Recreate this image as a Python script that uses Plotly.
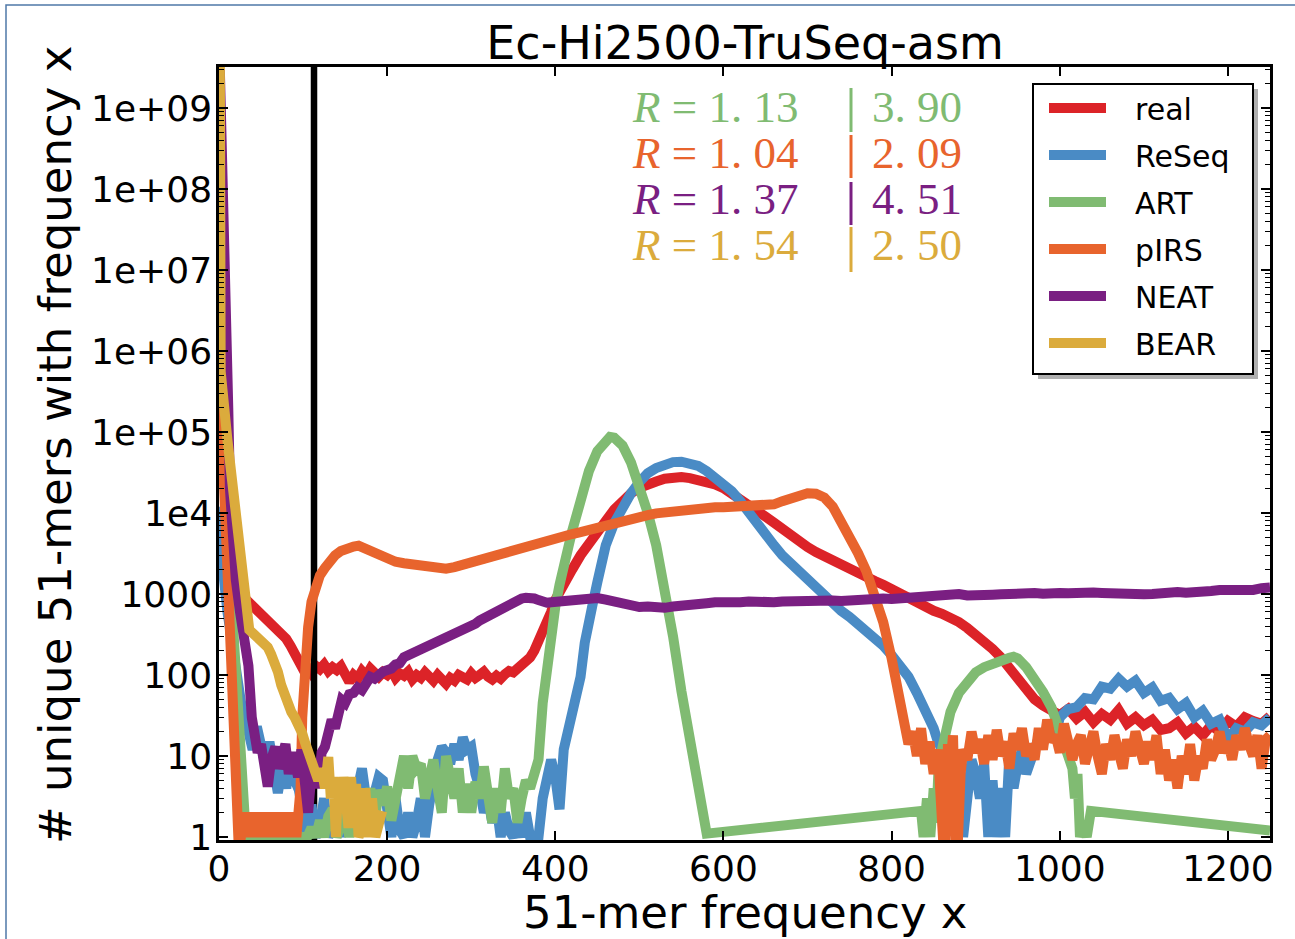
import plotly.graph_objects as go

# ---------------------------------------------------------------------------
# k-mer spectra: number of distinct 51-mers observed with frequency x
# ---------------------------------------------------------------------------
real_x = [1, 5, 10, 15, 20, 25] + list(range(30, 400, 5)) + list(range(400, 1251, 10))
real_y = [
    8e5, 6e4, 8000, 2500, 1400, 1000,
    900, 800, 720, 690, 620, 520, 470, 430, 380, 320,
    280, 230, 180, 140, 118, 125, 105, 130, 118, 135,
    112, 125, 115, 128, 95, 82, 100, 90, 112, 98,
    120, 105, 95, 108, 100, 115, 92, 105, 98, 110,
    88, 100, 92, 108, 95, 85, 100, 88, 78, 92,
    85, 100, 95, 88, 105, 92, 100, 110, 95, 88,
    98, 90, 102, 112, 108, 120, 130, 150, 165, 200,
    260, 340, 420, 600,
    850, 1400, 2000, 3000, 4300, 5600, 8000, 11000, 14500, 17500,
    20500, 23000, 24500, 26500, 27500, 27800, 27000, 26000, 24500, 22500,
    20300, 17500, 15000, 12500, 10800, 9000, 7600, 6300, 5300, 4500,
    3800, 3300, 2900, 2600, 2300, 2100, 1850, 1600, 1450, 1300,
    1150, 1050, 880, 760, 690, 620, 570, 520, 450, 380,
    320, 270, 210, 165, 120, 90, 68, 50, 42, 36,
    32, 38, 29, 35, 26, 33, 28, 37, 25, 30,
    24, 28, 21, 22, 26, 19, 23, 18, 24, 20,
    27, 23, 30, 27, 25, 31,
]

reseq_x = ([1, 3, 6, 10, 15, 19, 25] + list(range(30, 450, 5)) + list(range(450, 851, 10))
           + list(range(855, 1000, 5)) + list(range(1000, 1251, 10)))
reseq_y = [
    12000, 4000, 1500, 600, 250, 150, 60,
    25, 20, 12, 23, 14, 8, 15, 6, 3.5, 7,
    4, 10, 5, 3.8, 1.6, 1, 2.5, 1, 1.4, 3,
    1, 1.5, 2, 1, 3, 1.3, 2.2, 4, 7, 3,
    1.5, 3.5, 5.5, 5, 2.5, 1, 3, 1.2, 1, 2,
    1, 1.5, 3, 1, 2.5, 6, 9, 13, 11, 8,
    14, 9, 17, 12, 13, 6, 4, 2, 3, 1.5,
    2.5, 1, 2, 1.2, 1, 1.5, 1, 2, 1, 1,
    1, 3, 6, 9, 5.5, 2.2, 12, 19, 35, 60,
    95, 250, 520, 800,
    1400, 4000, 7500, 12000, 17500, 24000, 31000, 36000, 40000, 42500,
    43000, 41000, 38000, 33000, 28000, 23500, 18500, 14000, 10000, 7500,
    5500, 4000, 3000, 2400, 1900, 1500, 1150, 950, 780, 620,
    520, 430, 350, 290, 230, 175, 130, 95, 60, 38,
    22,
    15, 12, 6, 8, 3, 5, 1, 4, 9, 6,
    3, 8, 1, 5, 1, 4, 1, 10, 4, 8,
    12, 6, 9, 11, 17, 14, 20, 22, 18,
    30, 38, 40, 52, 50, 72, 68, 90, 72, 85,
    60, 70, 48, 52, 38, 45, 30, 36, 25, 28,
    16, 22, 20, 26, 24, 30,
]

art_x = ([1, 5, 10, 15, 20, 25, 28, 32] + list(range(35, 385, 5))
         + [385, 390, 395, 400, 405, 410, 415, 420, 430, 440, 450, 460, 465, 470,
            480, 490, 500, 510, 520, 530, 540, 550, 555, 560, 565, 570, 575, 580]
         + [835, 838, 842, 846, 850, 853, 856, 860, 865, 870, 880, 890, 900, 910,
            920, 930, 940, 945, 950, 960, 970, 980, 990, 1000, 1005, 1010, 1015,
            1018, 1021, 1024, 1028, 1032, 1037, 1250])
art_y = [
    3e5, 3e4, 5000, 800, 100, 15, 4, 1,
    1, 1, 1, 1, 1, 1, 1, 1, 1, 1,
    1, 1, 1, 1, 1, 1.3, 1, 1.6, 1, 1.8,
    2.2, 1, 1.5, 2, 1, 2.5, 1.5, 3, 2, 4,
    1.5, 3.8, 2.5, 4.2, 1.6, 3, 6, 10, 4, 10,
    7, 8, 3, 5, 9, 4, 2, 10, 6, 3,
    7, 2, 4.5, 2, 4.8, 3, 7.4, 2.5, 1.5, 4,
    2, 7, 3, 4, 1.5, 3, 5, 4, 7, 9,
    45, 130, 350, 700, 1300, 2200, 4000, 6000, 14000, 33000, 58000, 80000, 87000, 85000,
    68000, 42000, 21000, 10000, 4000, 1300, 300, 63, 32, 15, 8, 4, 2, 1.1,
    2.1, 1, 3, 1, 4, 1.5, 8, 12, 22, 35, 60, 85, 108, 125,
    140, 150, 163, 168, 160, 125, 92, 62, 40, 22, 16, 10, 7,
    3, 6, 1, 1.5, 1, 2.1, 1.2,
]

pirs_x = ([1, 5, 10, 15, 20, 23] + list(range(26, 96, 3))
          + [97, 99, 102, 106, 110, 114, 120, 126, 132, 138, 145, 152, 160, 166, 172, 180, 187, 194]
          + list(range(200, 811, 10))
          + [815, 820, 825, 830, 835, 840, 845, 850, 855, 858, 861, 864, 867, 870, 873, 876, 879, 882]
          + list(range(885, 1251, 5)))
pirs_y = [
    4e5, 3e4, 1500, 60, 3, 1,
    1, 2, 1, 2, 1, 2, 1, 2, 1, 2, 1, 2,
    1, 2, 1, 2, 1, 2, 1, 2, 1, 2, 1, 2,
    4, 30, 120, 390, 800, 1100, 1700, 2100, 2600, 3000,
    3400, 3700, 3850, 3950, 3700, 3500, 3300, 2900,
    2700, 2500, 2400, 2300, 2250, 2200, 2150, 2050, 2150, 2300,
    2500, 2750, 3000, 3150, 3300, 3600, 3750, 4000, 4300, 4700,
    5000, 5200, 5500, 5800, 6200, 6700, 7000, 7500, 8000, 8500,
    9000, 9400, 9900, 10200, 10600, 10900, 11200, 11400, 11600, 11800,
    11800, 11900, 11800, 11700, 11800, 12000, 12800, 14000, 15300, 16600,
    17500, 17300, 15500, 12000, 8000, 5500, 3200, 1900, 1000, 450,
    160, 50,
    25, 14, 20, 10, 22, 8, 15, 6, 12, 3,
    1, 1, 14, 8, 18, 1, 1, 6,
    12, 9, 20, 11, 16, 8, 18, 9, 21, 10,
    15, 7, 19, 12, 22, 10, 14, 9, 22, 12,
    28, 15, 18, 11, 25, 15, 9, 14, 18, 8,
    12, 20, 10, 6, 14, 9, 18, 11, 7, 16,
    10, 20, 12, 8, 15, 9, 18, 6, 12, 5,
    9, 4, 10, 6, 14, 5, 10, 7, 16, 9,
    12, 20, 11, 15, 9, 18, 12, 22, 14, 10,
    18, 7, 16, 18,
]

neat_x = ([1, 4, 8, 11, 13, 16, 20, 25, 30, 35, 39, 42]
          + [46, 50, 54, 58, 62, 67, 71, 75, 79, 83, 87, 91, 94, 98, 102, 106, 110,
             114, 118, 122, 126, 130, 134, 138, 142, 146]
          + list(range(150, 400, 5)) + list(range(400, 1251, 10)))
neat_y = [
    3e9, 5e7, 3e6, 2e5, 2e4, 4000, 1500, 600, 280, 130, 30, 18,
    11, 14, 6, 4.2, 9, 13, 7, 9, 14, 6,
    11, 8, 5.5, 12, 3.5, 2, 6, 9, 4, 11,
    13, 20, 28, 22, 40, 49,
    45, 58, 60, 70, 65, 85, 95, 90, 105, 110,
    115, 120, 135, 140, 166, 175, 190, 205, 220, 230,
    240, 255, 265, 270, 290, 310, 325, 340, 360, 380,
    400, 430, 470, 500, 540, 580, 620, 680, 720, 760,
    820, 850, 880, 900, 920, 880, 840, 800, 780, 790,
    800, 820, 800, 840, 860, 890, 850, 800, 760, 700,
    690, 700, 680, 675, 700, 730, 760, 780, 770, 790,
    780, 800, 790, 810, 790, 800, 790, 810, 820, 840,
    830, 850, 840, 830, 820, 840, 860, 850, 860, 880,
    870, 890, 920, 910, 930, 920, 950, 970, 1000, 960,
    990, 1000, 980, 990, 1010, 1000, 1020, 1030, 1010, 1040,
    1030, 1020, 1050, 1030, 1040, 1030, 1010, 990, 1000, 1020,
    990, 1000, 1030, 1050, 1060, 1040, 1080, 1100, 1090, 1120,
    1110, 1130, 1150, 1120, 1180, 1200,
]

bear_x = [1, 2, 10, 20, 30, 33, 36, 40, 45, 50,
          55, 58, 62, 66, 70, 74, 78, 82, 86, 90,
          94, 99, 103, 106, 110, 114, 118, 122, 126, 130,
          133, 136, 139, 142, 145, 148, 151, 154, 157, 160,
          163, 166, 170, 174, 178, 182, 186, 190, 194]
bear_y = [5e9, 5.6e5, 8e4, 9000, 1000, 480, 360, 330, 300, 280,
          250, 220, 180, 150, 110, 75, 55, 40, 35, 30,
          25, 19, 14, 11, 8, 7.3, 5, 7, 4, 9.7,
          3, 5.5, 1, 5, 2, 5.5, 3, 1.3, 5.5, 2,
          4.5, 1, 1.3, 4, 1, 3, 1, 1.5, 2.1]

# frequency cut-off marked by the vertical bar
cutoff_x = 113

# R statistics per simulator: left / right values
r_names = ["ART", "pIRS", "NEAT", "BEAR"]
r_left = ["1.13", "1.04", "1.37", "1.54"]
r_right = ["3.90", "2.09", "4.51", "2.50"]

y_tick_vals = [1, 10, 100, 1000, 1e4, 1e5, 1e6, 1e7, 1e8, 1e9]
y_tick_text = ["1", "10", "100", "1000", "1e4", "1e+05", "1e+06", "1e+07", "1e+08", "1e+09"]
x_tick_vals = [0, 200, 400, 600, 800, 1000, 1200]

colors = {
    "real": "#dc2328",
    "ReSeq": "#4a8bc5",
    "ART": "#80bb72",
    "pIRS": "#e8642d",
    "NEAT": "#7a1f82",
    "BEAR": "#dbab3c",
}

series = [
    ("real", real_x, real_y),
    ("ReSeq", reseq_x, reseq_y),
    ("ART", art_x, art_y),
    ("pIRS", pirs_x, pirs_y),
    ("NEAT", neat_x, neat_y),
    ("BEAR", bear_x, bear_y),
]

# ---------------------------------------------------------------------------
W, H = 1295, 939
ML, MR, MT, MB = 219, 25, 67, 99
PW, PH = W - ML - MR, H - MT - MB


def px_x(px):
    return (px - ML) / PW


def px_y(py):
    return (H - MB - py) / PH


FONT = "DejaVu Sans"
SERIF = "Liberation Serif"
GAP = "\u00a0\u00a0\u2006"   # space between legend swatch and label

fig = go.Figure()
for name, xs, ys in series:
    assert len(xs) == len(ys), name
    fig.add_trace(go.Scatter(
        x=xs, y=ys, mode="lines", name=GAP + name, legendgroup=name,
        line=dict(color=colors[name], width=10),
    ))
    if name == "real":
        fig.add_trace(go.Scatter(
            x=[cutoff_x, cutoff_x], y=[0.1, 1e11], mode="lines",
            line=dict(color="black", width=6.5), showlegend=False, hoverinfo="skip",
        ))

minor_vals = [k * 10 ** d for d in range(0, 10) for k in range(2, 10)]

axis_common = dict(
    showline=True, linecolor="black", linewidth=2.5, mirror="allticks",
    ticks="inside", ticklen=9, tickwidth=1.5, tickcolor="black",
    showgrid=False, zeroline=False,
    tickfont=dict(family=FONT, size=36, color="black"),
)

fig.update_xaxes(range=[0, 1250], tickvals=x_tick_vals, ticklabelstandoff=-5, **axis_common)
fig.update_yaxes(
    type="log", range=[-0.037, 9.506],
    tickvals=y_tick_vals, ticktext=y_tick_text, ticklabelstandoff=-3,
    minor=dict(tickvals=minor_vals, ticks="inside", ticklen=5, tickwidth=1, tickcolor="black"),
    **axis_common,
)

annotations = [
    dict(text="51-mer frequency x", x=0.5, y=px_y(913), xref="paper", yref="paper",
         showarrow=False, xanchor="center", yanchor="middle",
         font=dict(family=FONT, size=45, color="black")),
    dict(text="# unique 51-mers with frequency x", x=px_x(55), y=px_y(445),
         xref="paper", yref="paper", showarrow=False, textangle=-90,
         xanchor="center", yanchor="middle",
         font=dict(family=FONT, size=45, color="black")),
]

shapes = []
row_centers = [107, 153, 199, 245]
bar_spans = [(88, 132), (135, 178), (182, 225), (227, 272)]
for name, left, right, yc, (b0, b1) in zip(r_names, r_left, r_right, row_centers, bar_spans):
    c = colors[name]
    annotations.append(dict(
        text="<i>R</i> = " + left.replace(".", ". "), x=px_x(630), y=px_y(yc),
        xref="paper", yref="paper", showarrow=False, xanchor="left", yanchor="middle",
        font=dict(family=SERIF, size=45, color=c)))
    annotations.append(dict(
        text=right.replace(".", ". "), x=px_x(870), y=px_y(yc),
        xref="paper", yref="paper", showarrow=False, xanchor="left", yanchor="middle",
        font=dict(family=SERIF, size=45, color=c)))
    shapes.append(dict(type="line", xref="paper", yref="paper",
                       x0=px_x(851), x1=px_x(851), y0=px_y(b0), y1=px_y(b1),
                       line=dict(color=c, width=3)))

# legend frame with drop shadow (legend entries are drawn on top of it)
shapes.append(dict(type="rect", xref="paper", yref="paper", layer="above",
                   x0=px_x(1038), x1=px_x(1258), y0=px_y(379), y1=px_y(89),
                   fillcolor="#b0b0b0", line=dict(width=0)))
shapes.append(dict(type="rect", xref="paper", yref="paper", layer="above",
                   x0=px_x(1033), x1=px_x(1253), y0=px_y(374), y1=px_y(84),
                   fillcolor="white", line=dict(color="black", width=2)))
# outer frame
shapes.append(dict(type="rect", xref="paper", yref="paper", layer="above",
                   x0=px_x(6), x1=px_x(1310), y0=px_y(950), y1=px_y(5),
                   line=dict(color="#4f78a8", width=1.5)))

fig.update_layout(
    width=W, height=H,
    margin=dict(l=ML, r=MR, t=MT, b=MB, pad=0),
    paper_bgcolor="white", plot_bgcolor="white",
    title=dict(text="Ec-Hi2500-TruSeq-asm", x=px_x(745), xref="paper", xanchor="center",
               y=1 - 43 / H, yref="container", yanchor="middle",
               font=dict(family=FONT, size=46, color="black")),
    showlegend=True,
    legend=dict(
        x=px_x(1044), y=px_y(82), xanchor="left", yanchor="top",
        bgcolor="rgba(0,0,0,0)", borderwidth=0,
        font=dict(family=FONT, size=30, color="black"),
        tracegroupgap=5, itemwidth=57,
    ),
    annotations=annotations,
    shapes=shapes,
)

fig.write_html("out.html")
